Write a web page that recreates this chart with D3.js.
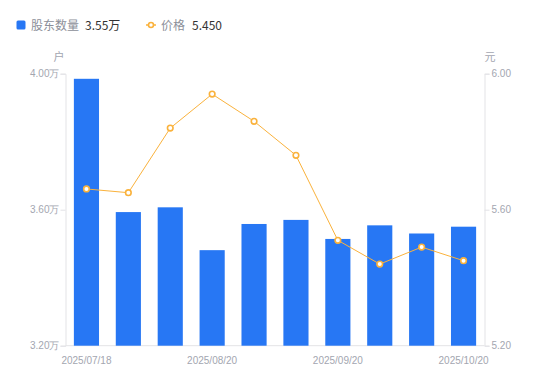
<!DOCTYPE html>
<html><head><meta charset="utf-8">
<script src="https://cdn.jsdelivr.net/npm/d3@7"></script>
<style>body{margin:0;background:#fff;}svg{display:block;font-family:"Noto Sans CJK SC","Noto Sans",sans-serif;}</style>
</head><body><svg id="c" width="550" height="381"></svg>
<script>
const dates = ["2025/07/18","2025/07/31","2025/08/10","2025/08/20","2025/08/31","2025/09/10","2025/09/20","2025/09/30","2025/10/10","2025/10/20"];
const holders = [3.985, 3.593, 3.607, 3.481, 3.558, 3.570, 3.514, 3.554, 3.530, 3.55];
const prices = [5.661, 5.650, 5.840, 5.940, 5.860, 5.760, 5.510, 5.440, 5.490, 5.450];
const leftTicks = [3.20, 3.60, 4.00];
const rightTicks = [5.20, 5.60, 6.00];
const shownDates = ["2025/07/18","2025/08/20","2025/09/20","2025/10/20"];

const svg = d3.select("#c");
const L = 65.5, R = 484.5, T = 73.7, B = 345.7;
const blue = "#2777F4", orange = "#FAB23C", axisC = "#E3E3E6", textC = "#A3A6B0";

const x = d3.scaleBand().domain(dates).range([L, R]).paddingInner(0.4).paddingOuter(0.2);
const yL = d3.scaleLinear().domain([3.2, 4.0]).range([B, T]);
const yR = d3.scaleLinear().domain([5.2, 6.0]).range([B, T]);

// axes
const gL = svg.append("g").attr("transform", `translate(${L},0)`)
  .call(d3.axisLeft(yL).tickValues(leftTicks).tickSize(5).tickFormat(d => d3.format(".2f")(d) + "万"));
const gR = svg.append("g").attr("transform", `translate(${R},0)`)
  .call(d3.axisRight(yR).tickValues(rightTicks).tickSize(5).tickFormat(d3.format(".2f")));
const gB = svg.append("g").attr("transform", `translate(0,${B})`)
  .call(d3.axisBottom(x).tickValues(shownDates).tickSize(0).tickPadding(11));
[gL, gR, gB].forEach(g => {
  g.select(".domain").attr("stroke", axisC);
  g.selectAll(".tick line").attr("stroke", axisC);
  g.selectAll(".tick text").attr("fill", textC).style("font-size", "10px")
    .style("font-family", "'Liberation Sans', Arial, sans-serif");
});
gB.select(".domain").attr("d", `M${L},0H${R}`);
gL.selectAll(".tick text").attr("x", -6);
gR.selectAll(".tick text").attr("x", 7);

// unit labels
svg.append("text").attr("x", 59).attr("y", 61).attr("text-anchor", "middle")
  .attr("fill", textC).style("font-size", "11px").text("户");
svg.append("text").attr("x", 490).attr("y", 61).attr("text-anchor", "middle")
  .attr("fill", textC).style("font-size", "11px").text("元");

// bars
svg.append("g").selectAll("rect").data(dates).join("rect")
  .attr("x", d => x(d)).attr("width", x.bandwidth())
  .attr("y", (d, i) => yL(holders[i])).attr("height", (d, i) => B - yL(holders[i]))
  .attr("fill", blue);

// line
const cx = d => x(d) + x.bandwidth() / 2;
svg.append("path").datum(dates)
  .attr("d", d3.line().x(d => cx(d)).y((d, i) => yR(prices[i])))
  .attr("fill", "none").attr("stroke", orange).attr("stroke-width", 1);
svg.append("g").selectAll("circle").data(dates).join("circle")
  .attr("cx", d => cx(d)).attr("cy", (d, i) => yR(prices[i])).attr("r", 2.8)
  .attr("fill", "#fff").attr("stroke", orange).attr("stroke-width", 1.6);

// legend
const lg = svg.append("g");
lg.append("rect").attr("x", 16.5).attr("y", 20.5).attr("width", 9).attr("height", 9).attr("rx", 1.5).attr("fill", blue);
lg.append("text").attr("x", 31).attr("y", 29.5).attr("fill", "#8C8F99").style("font-size", "12px").text("股东数量");
lg.append("text").attr("x", 85).attr("y", 29.5).attr("fill", "#333").style("font-size", "12px").text("3.55万");
lg.append("line").attr("x1", 146).attr("x2", 156).attr("y1", 25).attr("y2", 25).attr("stroke", orange).attr("stroke-width", 1.5);
lg.append("circle").attr("cx", 151).attr("cy", 25).attr("r", 2.5).attr("fill", "#fff").attr("stroke", orange).attr("stroke-width", 1.6);
lg.append("text").attr("x", 161).attr("y", 29.5).attr("fill", "#8C8F99").style("font-size", "12px").text("价格");
lg.append("text").attr("x", 192).attr("y", 29.5).attr("fill", "#333").style("font-size", "12px").text("5.450");
</script></body></html>
